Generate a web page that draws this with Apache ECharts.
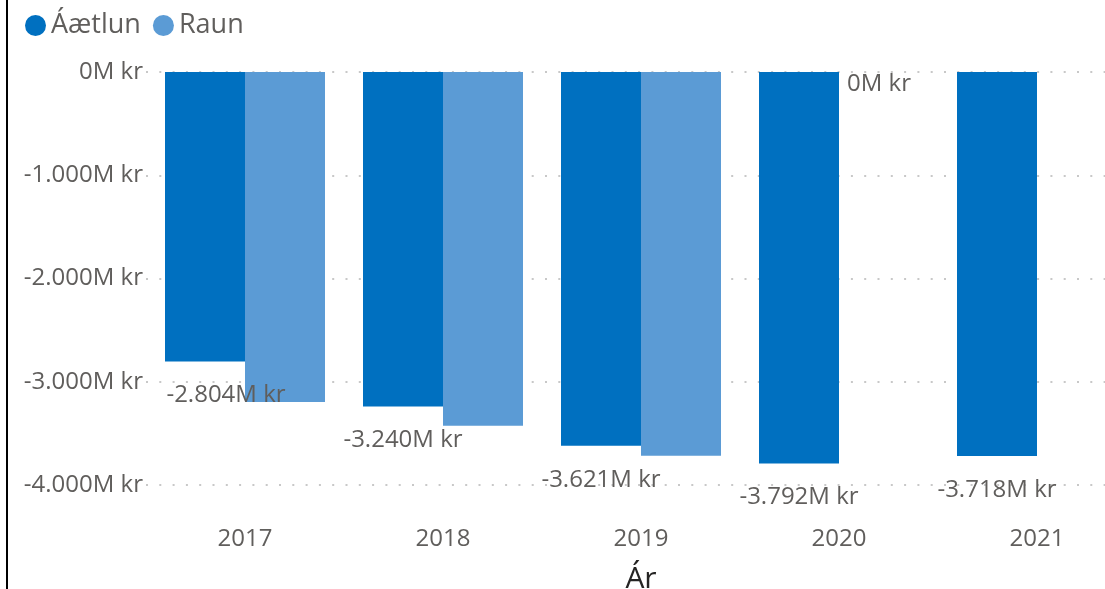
<!DOCTYPE html>
<html><head><meta charset="utf-8">
<script src="https://cdn.jsdelivr.net/npm/echarts@6/dist/echarts.min.js"></script>
<style>html,body{margin:0;padding:0;background:#fff}#c{width:1105px;height:589px}</style>
</head><body><div id="c"></div>
<script>
const years = ['2017','2018','2019','2020','2021'];
const aaetlun = [-2804, -3240, -3621, -3792, -3718];
const raun = [-3196, -3425, -3716, 0, null];
const yTicks = [0, -1000, -2000, -3000, -4000];

function fmt(v){
  const s = Math.abs(v).toString().replace(/\B(?=(\d{3})+(?!\d))/g,'.');
  return (v<0?'-':'') + s + 'M kr';
}
const FONT = '"Open Sans", "Noto Sans", sans-serif';
const chart = echarts.init(document.getElementById('c'));
chart.setOption({
  animation:false,
  textStyle:{fontFamily:FONT},
  graphic:[{type:'rect',left:6,top:0,shape:{width:2,height:589},style:{fill:'#000'}}],
  legend:{
    left:20, top:7, icon:'circle', itemWidth:21, itemHeight:21, itemGap:12,
    textStyle:{fontSize:27, color:'#605E5C', fontFamily:FONT},
    data:['Áætlun','Raun']
  },
  grid:{left:146, top:72, width:990, height:413, containLabel:false, outerBoundsMode:'none'},
  xAxis:{
    type:'category', data:years, position:'bottom',
    axisLine:{show:false, onZero:false}, axisTick:{show:false},
    axisLabel:{fontSize:24, color:'#605E5C', margin:42, fontFamily:FONT},
    name:'Ár', nameLocation:'middle', nameGap:79,
    nameTextStyle:{fontSize:30, color:'#252423', fontFamily:FONT}
  },
  yAxis:{
    type:'value', min:-4000, max:0, interval:1000,
    axisLine:{show:false}, axisTick:{show:false},
    axisLabel:{fontSize:24, color:'#605E5C', margin:3, formatter:fmt, fontFamily:FONT},
    splitLine:{show:true, lineStyle:{color:'#c8c8c8', width:2, type:[2,11.3]}}
  },
  series:[
    {name:'Áætlun', type:'bar', barWidth:80, barGap:'0%',
     itemStyle:{color:'#0070C0'},
     label:{show:true, position:'bottom', distance:22, fontSize:24, color:'#605E5C', formatter:p=>fmt(p.value), fontFamily:FONT},
     data: aaetlun.map((v,i)=> i===0 ? {value:v, label:{offset:[21,0]}} : v)
    },
    {name:'Raun', type:'bar', barWidth:80, barGap:'0%',
     itemStyle:{color:'#5B9BD5'},
     label:{show:false, position:'bottom', distance:0, fontSize:24, color:'#605E5C', formatter:p=>fmt(p.value), fontFamily:FONT},
     data: raun.map(v=> v===0 ? {value:v, label:{show:true}} : v)
    }
  ]
});
</script></body></html>
